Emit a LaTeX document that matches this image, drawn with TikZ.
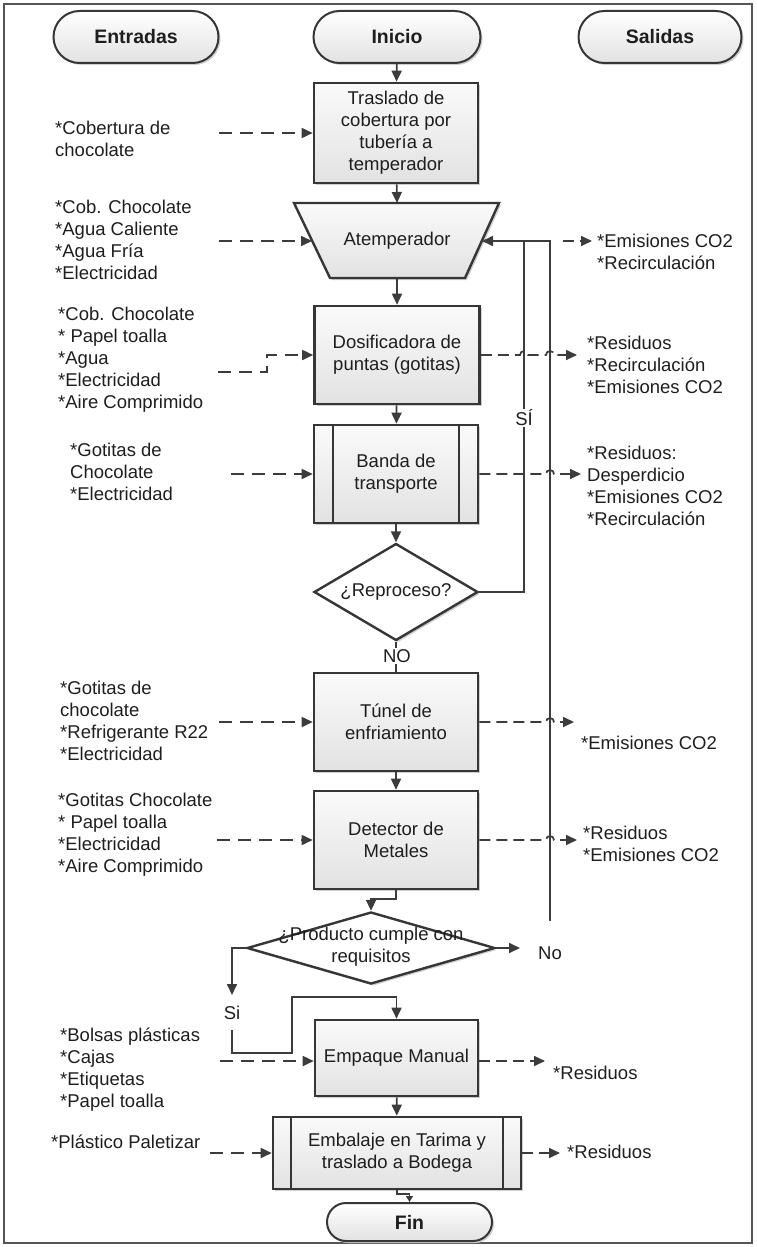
\documentclass[tikz,border=0pt]{standalone}
\usepackage{fontspec}
\setmainfont{Liberation Sans}
\usetikzlibrary{arrows.meta,shapes.geometric,shapes.misc,shadows}
\definecolor{ink}{HTML}{1E1E1E}
\definecolor{edge}{HTML}{363636}
\definecolor{wire}{HTML}{3C3C3C}
\definecolor{boxtop}{HTML}{FAFAFA}
\definecolor{boxbot}{HTML}{E2E2E2}
\definecolor{shade}{HTML}{CFCFCF}
\definecolor{framecol}{HTML}{555555}
\begin{document}
\begin{tikzpicture}[x=1pt,y=-1pt,
  every node/.style={text=ink,font=\fontsize{18.5}{22}\selectfont},
  shadowed/.style={drop shadow={shadow xshift=2pt,shadow yshift=-2pt,fill=shade,opacity=1}},
  proc/.style={rectangle,draw=edge,line width=2.6pt,top color=boxtop,bottom color=boxbot,shadowed,align=center,inner sep=0pt},
  term/.style={rounded rectangle,draw=edge,line width=2pt,top color=white,bottom color=boxbot,shadowed,inner sep=0pt,minimum height=52pt,font=\fontsize{19.5}{22}\selectfont\bfseries},
  decision/.style={diamond,aspect=1.7,draw=edge,line width=2.4pt,fill=white,shadowed,inner sep=0pt,align=center},
  txt/.style={anchor=west,align=left,inner sep=0pt},
  lbl/.style={inner sep=1pt},
  link/.style={draw=wire,line width=1.7pt},
  flow/.style={link,-{Triangle[length=11pt,width=10pt]}},
  feed/.style={flow,dash pattern=on 13pt off 8pt},
  outfeed/.style={flow,dash pattern=on 11pt off 6pt},
]
\useasboundingbox (0,0) rectangle (756,1247);
\draw[draw=framecol,line width=2.2pt] (4,4) rectangle (752,1243);

% terminals
\node[term,minimum width=165pt] (entradas) at (136,37) {Entradas};
\node[term,minimum width=167pt] (inicio) at (397,37) {Inicio};
\node[term,minimum width=163pt] (salidas) at (660,37) {Salidas};

% process column
\node[proc,minimum width=164pt,minimum height=100pt] (traslado) at (396,133)
  {Traslado de\\cobertura por\\tubería a\\temperador};

% tempering unit (trapezoid)
\coordinate (attop) at (397,203);
\coordinate (atbot) at (397,278);
\coordinate (atin) at (312,241);
\coordinate (atout) at (482,241);
\draw[draw=edge,line width=2.4pt,top color=boxtop,bottom color=boxbot,shadowed]
  (294,203) -- (499,203) -- (465,278) -- (330,278) -- cycle;
\node (atemp) at (397,241) {Atemperador};

\node[proc,minimum width=165pt,minimum height=98pt] (dosif) at (397,355)
  {Dosificadora de\\puntas (gotitas)};
\node[proc,minimum width=164pt,minimum height=98pt] (banda) at (396,474)
  {Banda de\\transporte};
\draw[draw=edge,line width=2pt] ([xshift=20pt]banda.north west) -- ([xshift=20pt]banda.south west);
\draw[draw=edge,line width=2pt] ([xshift=-20pt]banda.north east) -- ([xshift=-20pt]banda.south east);
\node[decision,minimum width=164pt,minimum height=97pt] (reproc) at (396,592) {¿Reproceso?};
\node[proc,minimum width=164pt,minimum height=98pt] (tunel) at (396,722)
  {Túnel de\\enfriamiento};
\node[proc,minimum width=164pt,minimum height=98pt] (detector) at (396,840)
  {Detector de\\Metales};
\node[decision,minimum width=248pt,minimum height=72pt] (cumple) at (371,948) {};
\node[align=center,inner sep=0pt] (cumpletxt) at (371,947) {¿Producto cumple con\\requisitos};
\node[proc,minimum width=163pt,minimum height=76pt] (empaque) at (396.5,1058) {Empaque Manual};
\node[proc,minimum width=248pt,minimum height=72pt] (embalaje) at (397,1153)
  {Embalaje en Tarima y\\traslado a Bodega};
\draw[draw=edge,line width=2pt] ([xshift=19pt]embalaje.north west) -- ([xshift=19pt]embalaje.south west);
\draw[draw=edge,line width=2pt] ([xshift=-19pt]embalaje.north east) -- ([xshift=-19pt]embalaje.south east);
\node[term,minimum width=165pt,minimum height=38pt] (fin) at (409.5,1222) {Fin};

% inputs
\node[txt] (in1) at (55,139) {*Cobertura de\\chocolate};
\node[txt] (in2) at (55,240) {*Cob. Chocolate\\*Agua Caliente\\*Agua Fría\\*Electricidad};
\node[txt] (in3) at (58,360) {*Cob. Chocolate\\* Papel toalla\\*Agua\\*Electricidad\\*Aire Comprimido};
\node[txt] (in4) at (70,472) {*Gotitas de\\Chocolate\\*Electricidad};
\node[txt] (in5) at (60,721) {*Gotitas de\\chocolate\\*Refrigerante R22\\*Electricidad};
\node[txt] (in6) at (58,835) {*Gotitas Chocolate\\* Papel toalla\\*Electricidad\\*Aire Comprimido};
\node[txt] (in7) at (60,1070) {*Bolsas plásticas\\*Cajas\\*Etiquetas\\*Papel toalla};
\node[txt] (in8) at (51,1142) {*Plástico Paletizar};

% outputs
\node[txt] (out1) at (597,252) {*Emisiones CO2\\*Recirculación};
\node[txt] (out2) at (587,365) {*Residuos\\*Recirculación\\*Emisiones CO2};
\node[txt] (out3) at (587,486) {*Residuos:\\Desperdicio\\*Emisiones CO2\\*Recirculación};
\node[txt] (out4) at (581,743) {*Emisiones CO2};
\node[txt] (out5) at (583,844) {*Residuos\\*Emisiones CO2};
\node[txt] (out6) at (553,1073) {*Residuos};
\node[txt] (out7) at (567,1152) {*Residuos};

% main flow
\draw[flow] (inicio) -- (traslado);
\draw[flow] (traslado) -- (attop);
\draw[flow] (atbot) -- (dosif);
\draw[flow] (dosif) -- (banda);
\draw[flow] (banda) -- (reproc);
\draw[link] (reproc.south) -- (tunel.north);
\draw[flow] (tunel) -- (detector);
\draw[flow] (detector.south) -- ++(0,9) -| (cumple.north);
\draw[link,-{Triangle[length=6pt,width=7pt]}] (embalaje.south) -- ++(0,4) -| (fin.north);
\draw[flow] (empaque) -- (embalaje);

% reprocessing loops
\draw[flow] (reproc.east) -| (524,241) -- (atout);
\node[lbl] (no) at (550,953) {No};
\draw[link,shorten <=24pt] (no.north) |- (524,241);
\coordinate (noarr) at (520,948);
\draw[flow] (cumple.east) -- (noarr);

% accepted product
\coordinate (siA) at (232,995);
\draw[flow] (cumple.west) -| (siA);
\node[lbl] (si) at (232,1013) {Si};
\draw[flow,shorten <=9pt] (si.south) |- (292,1053) -- (292,997) -| (empaque.north);

% decision labels
\node[lbl,fill=white] (siLbl) at (524,418) {SÍ};
\node[lbl,fill=white] (noLbl) at (397,656) {NO};

% input arrows
\coordinate (i1) at (219,133);
\coordinate (i2) at (219,241);
\coordinate (i3) at (218,372);
\coordinate (i4) at (231,474);
\coordinate (i5) at (219,722);
\coordinate (i6) at (217,840);
\coordinate (i7) at (220,1061);
\coordinate (i8) at (210,1153);
\draw[feed] (i1) -- (traslado.west);
\draw[feed] (i2) -- (atin);
\draw[feed] (i3) -- (267,372) -- (267,355) -- (dosif.west);
\draw[feed] (i4) -- (banda.west);
\draw[feed] (i5) -- (tunel.west);
\draw[feed] (i6) -- (detector.west);
\draw[feed] (i7) -- ([yshift=-3pt]empaque.west);
\draw[feed] (i8) -- (embalaje.west);

% output arrows (with line hops over the loop lines)
\coordinate (o1s) at (563,241);
\coordinate (o1) at (592,241);
\coordinate (o2) at (577,355);
\coordinate (o3) at (581,474);
\coordinate (o4) at (574,722);
\coordinate (o5) at (577,840);
\coordinate (o6) at (545,1061);
\coordinate (o7) at (560,1153);
\draw[outfeed] (o1s) -- (o1);
\draw[outfeed] (dosif.east) -- (520,355) arc[start angle=180,end angle=360,radius=4]
  -- (546,355) arc[start angle=180,end angle=360,radius=4] -- (o2);
\draw[outfeed] (banda.east) -- (546,474) arc[start angle=180,end angle=360,radius=4] -- (o3);
\draw[outfeed] (tunel.east) -- (546,722) arc[start angle=180,end angle=360,radius=4] -- (o4);
\draw[outfeed] (detector.east) -- (546,840) arc[start angle=180,end angle=360,radius=4] -- (o5);
\draw[outfeed] ([yshift=-3pt]empaque.east) -- (o6);
\draw[outfeed] (embalaje.east) -- (o7);
\end{tikzpicture}
\end{document}
